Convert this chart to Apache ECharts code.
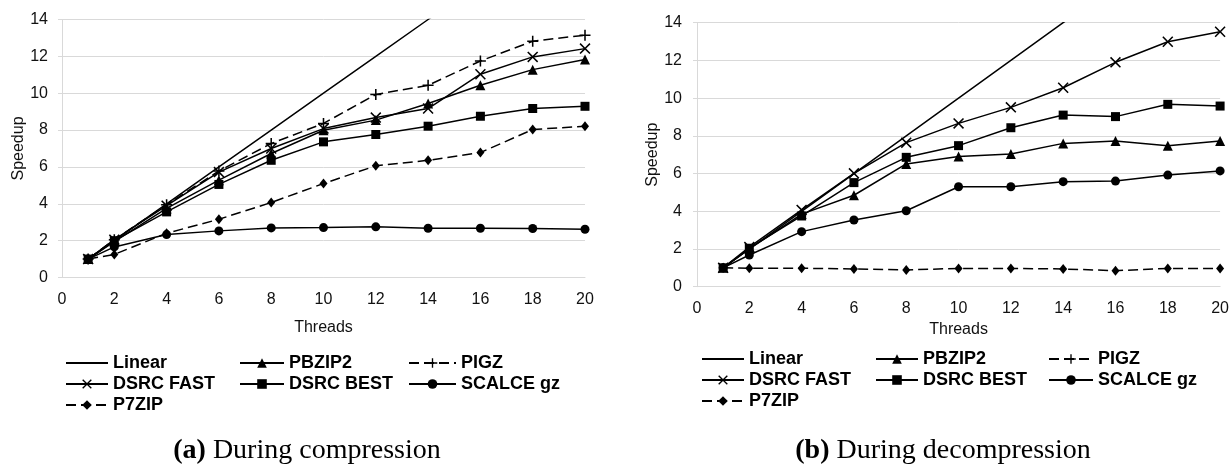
<!DOCTYPE html>
<html>
<head>
<meta charset="utf-8">
<script src="https://cdn.jsdelivr.net/npm/echarts@6/dist/echarts.min.js"></script>
<style>
  html, body { margin: 0; padding: 0; background: #fff; }
  #chart { width: 1232px; height: 466px; }
</style>
</head>
<body>
<div id="chart"></div>
<script>
// thread counts on the x axis
const threads = [1, 2, 4, 6, 8, 10, 12, 14, 16, 18, 20]
const linear = [1, 2, 4, 6, 8, 10, 12, 14, 16, 18, 20]

// (a) compression speedup
const compPbzip2 = [1.0, 1.95, 3.75, 5.28, 6.73, 7.99, 8.54, 9.44, 10.43, 11.28, 11.83]
const compPigz = [1.0, 2.05, 3.95, 5.78, 7.27, 8.36, 9.93, 10.43, 11.75, 12.82, 13.15]
const compDsrcFast = [1.0, 2.05, 3.9, 5.72, 7.0, 8.08, 8.68, 9.17, 11.03, 11.97, 12.42]
const compDsrcBest = [1.0, 2.0, 3.56, 5.05, 6.36, 7.36, 7.76, 8.21, 8.75, 9.17, 9.29]
const compScalce = [1.0, 1.66, 2.33, 2.53, 2.69, 2.71, 2.75, 2.67, 2.67, 2.66, 2.62]
const compP7zip = [1.0, 1.25, 2.4, 3.16, 4.07, 5.1, 6.06, 6.36, 6.78, 8.03, 8.21]

// (b) decompression speedup
const decPbzip2 = [1.0, 2.0, 3.85, 4.85, 6.51, 6.9, 7.04, 7.6, 7.73, 7.48, 7.73]
const decDsrcFast = [1.0, 2.1, 4.07, 6.01, 7.64, 8.66, 9.51, 10.55, 11.9, 12.99, 13.52]
const decDsrcBest = [1.0, 2.04, 3.75, 5.52, 6.86, 7.48, 8.43, 9.1, 9.02, 9.67, 9.58]
const decScalce = [1.0, 1.68, 2.92, 3.54, 4.03, 5.3, 5.3, 5.57, 5.6, 5.92, 6.14]
const decP7zip = [1.0, 0.98, 0.98, 0.94, 0.89, 0.97, 0.97, 0.94, 0.85, 0.97, 0.97]

const captions = ['{b|(a)} During compression', '{b|(b)} During decompression']

const PLUS = 'path://M4.3,0H5.7V4.3H10V5.7H5.7V10H4.3V5.7H0V4.3H4.3Z'
const CROSS = 'path://M0,1L1,0L5,4L9,0L10,1L6,5L10,9L9,10L5,6L1,10L0,9L4,5Z'
const SANS = 'Liberation Sans'
const GRID_GRAY = '#d9d9d9'

const style = {
  'Linear': { symbol: 'none', size: 0, dash: 'solid' },
  'PBZIP2': { symbol: 'triangle', size: 10, dash: 'solid' },
  'PIGZ': { symbol: PLUS, size: 11, dash: [10, 5] },
  'DSRC FAST': { symbol: CROSS, size: 11, dash: 'solid' },
  'DSRC BEST': { symbol: 'rect', size: 9, dash: 'solid' },
  'SCALCE gz': { symbol: 'circle', size: 9, dash: 'solid' },
  'P7ZIP': { symbol: 'diamond', size: [8, 10], dash: [10, 5] }
}

function makeSeries(name, values, idx) {
  const s = style[name]
  return {
    name: name,
    type: 'line',
    xAxisIndex: idx,
    yAxisIndex: idx,
    data: values.map((v, i) => [threads[i], v]),
    symbol: s.symbol,
    symbolSize: s.size,
    showSymbol: s.symbol !== 'none',
    clip: true,
    animation: false,
    itemStyle: { color: name === 'Linear' ? 'transparent' : '#000' },
    lineStyle: { color: '#000', width: 1.5, type: s.dash }
  }
}

function xAxis(idx, nameGap) {
  return {
    type: 'value',
    gridIndex: idx,
    min: 0,
    max: 20,
    interval: 2,
    name: 'Threads',
    nameLocation: 'middle',
    nameGap: nameGap,
    nameTextStyle: { fontFamily: SANS, fontSize: 16, color: '#111' },
    axisLine: { show: true, lineStyle: { color: GRID_GRAY } },
    axisTick: { show: false },
    splitLine: { show: false },
    axisLabel: { margin: 14, fontFamily: SANS, fontSize: 16, color: '#111' }
  }
}

function yAxis(idx, nameGap, margin) {
  return {
    type: 'value',
    gridIndex: idx,
    min: 0,
    max: 14,
    interval: 2,
    name: 'Speedup',
    nameLocation: 'middle',
    nameGap: nameGap,
    nameTextStyle: { fontFamily: SANS, fontSize: 16, color: '#111' },
    axisLine: { show: true, lineStyle: { color: GRID_GRAY } },
    axisTick: { show: true, length: 4, lineStyle: { color: GRID_GRAY } },
    splitLine: { show: true, lineStyle: { color: GRID_GRAY, width: 1 } },
    axisLabel: { margin: margin, fontFamily: SANS, fontSize: 16, color: '#111' }
  }
}

function legend(left, top, itemWidth, names) {
  return {
    orient: 'vertical',
    left: left,
    top: top,
    itemWidth: itemWidth,
    itemHeight: 12,
    itemGap: 3,
    padding: 0,
    selectedMode: false,
    data: names,
    textStyle: { fontFamily: SANS, fontWeight: 'bold', fontSize: 18, lineHeight: 18, color: '#000' }
  }
}

const chart = echarts.init(document.getElementById('chart'))

chart.setOption({
  backgroundColor: '#fff',
  grid: [
    { left: 62, top: 19.5, width: 523, height: 258 },
    { left: 697, top: 22.7, width: 524, height: 264 }
  ],
  xAxis: [xAxis(0, 42), xAxis(1, 31)],
  yAxis: [yAxis(0, 35, 14), yAxis(1, 36, 15)],
  legend: [
    legend(65, 354, 42, ['Linear', 'DSRC FAST', 'P7ZIP']),
    legend(239, 354, 44, ['PBZIP2', 'DSRC BEST']),
    legend(408, 354, 47, ['PIGZ', 'SCALCE gz']),
    legend(701, 350, 42, ['Linear', 'DSRC FAST', 'P7ZIP']),
    legend(875, 350, 42, ['PBZIP2', 'DSRC BEST']),
    legend(1048, 350, 44, ['PIGZ', 'SCALCE gz'])
  ],
  graphic: [
    {
      type: 'text', x: 307, y: 451,
      style: {
        text: captions[0], align: 'center', verticalAlign: 'middle',
        fontFamily: 'Liberation Serif', fontSize: 28, fill: '#000',
        rich: { b: { fontFamily: 'Liberation Serif', fontSize: 28, fontWeight: 'bold' } }
      }
    },
    {
      type: 'text', x: 943, y: 451,
      style: {
        text: captions[1], align: 'center', verticalAlign: 'middle',
        fontFamily: 'Liberation Serif', fontSize: 28, fill: '#000',
        rich: { b: { fontFamily: 'Liberation Serif', fontSize: 28, fontWeight: 'bold' } }
      }
    }
  ],
  series: [
    makeSeries('Linear', linear, 0),
    makeSeries('PBZIP2', compPbzip2, 0),
    makeSeries('PIGZ', compPigz, 0),
    makeSeries('DSRC FAST', compDsrcFast, 0),
    makeSeries('DSRC BEST', compDsrcBest, 0),
    makeSeries('SCALCE gz', compScalce, 0),
    makeSeries('P7ZIP', compP7zip, 0),
    makeSeries('Linear', linear, 1),
    makeSeries('PBZIP2', decPbzip2, 1),
    makeSeries('DSRC FAST', decDsrcFast, 1),
    makeSeries('DSRC BEST', decDsrcBest, 1),
    makeSeries('SCALCE gz', decScalce, 1),
    makeSeries('P7ZIP', decP7zip, 1)
  ]
})
</script>
</body>
</html>
